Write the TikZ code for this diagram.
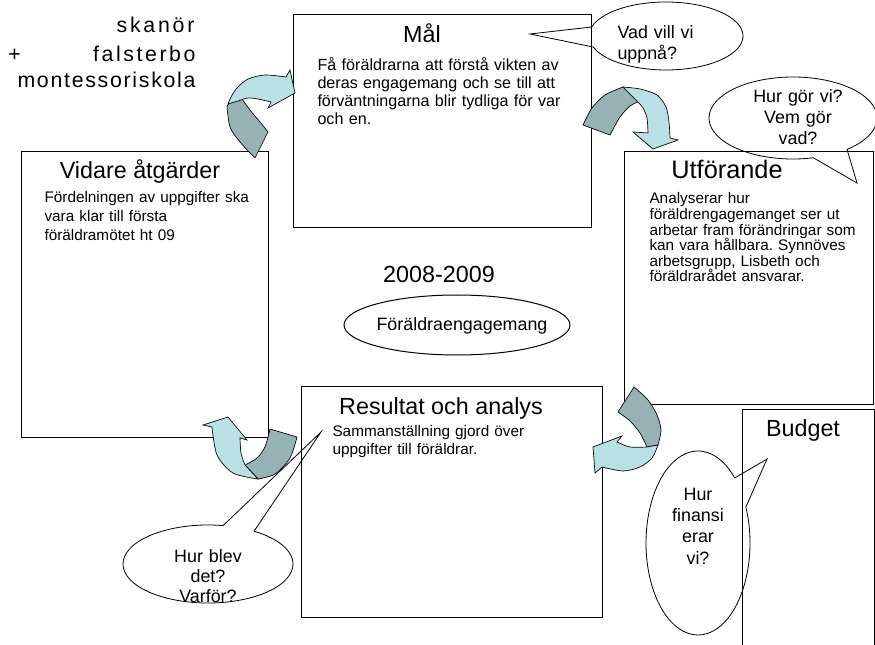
\documentclass[tikz,border=0pt]{standalone}
\usepackage{fontspec}
\setmainfont{Liberation Sans}
\usetikzlibrary{arrows.meta}
\definecolor{bandbak}{RGB}{150,178,180}
\definecolor{bandfram}{RGB}{185,224,228}
\frenchspacing

\begin{document}
\begin{tikzpicture}[x=0.75pt, y=-0.75pt, line width=0.75pt,
    titel/.style={anchor=base, inner sep=0pt, font=\fontsize{17.5}{21}\selectfont},
    brodtext/.style={anchor=base west, inner sep=0pt, align=left, text width=260pt,
                     font={\fontsize{11.5}{#1}\selectfont\setlength{\lineskiplimit}{-20pt}}},
    prat/.style={anchor=base, inner sep=0pt, align=center, text width=150pt,
                 font={\fontsize{13.4}{#1}\selectfont\setlength{\lineskiplimit}{-20pt}}},
    prat/.default=15.4,
    bubbla/.style={draw=black, line width=0.6pt},
    bak/.style={fill=bandbak, draw=black, line width=0.5pt},
    fram/.style={fill=bandfram, draw=black, line width=0.5pt},
    logo/.style={inner sep=0pt, font={\fontsize{16}{19}\selectfont\addfontfeature{LetterSpace=#1}}},
    logo/.default=8]
    \useasboundingbox (0,0) rectangle (875,645);

    % logga
    \node[logo=13, anchor=base east] (skanor) at (195,33) {skanör};
    \node[logo, anchor=base west] (plus) at (8,62) {+};
    \node[logo=12, anchor=base east] (falsterbo) at (196,62) {falsterbo};
    \node[logo=8, anchor=base west] (montessori) at (17,88) {montessoriskola};

    % Mål
    \draw (293,15) rectangle (591,228);
    \node[titel] (mal) at (422,43) {Mål};
    \node[brodtext=13.3, font={\fontsize{12.1}{13.3}\selectfont}] (maltext) at (317,71)
        {Få föräldrarna att förstå vikten av\\deras engagemang och se till att\\förväntningarna blir tydliga för var\\och en.};

    % Vidare åtgärder
    \draw (21,152) rectangle (268,437);
    \node[titel] (vidare) at (140,179) {Vidare åtgärder};
    \node[brodtext=13.9] (vidaretext) at (44,203)
        {Fördelningen av uppgifter ska\\vara klar till första\\föräldramötet ht 09};

    % Utförande
    \draw (624,152) rectangle (873,404);
    \node[titel, font=\fontsize{19}{23}\selectfont] (utf) at (727,179) {Utförande};
    \node[brodtext=11.7] (utftext) at (649,204)
        {Analyserar hur\\föräldrengagemanget ser ut\\arbetar fram förändringar som\\kan vara hållbara. Synnöves\\arbetsgrupp, Lisbeth och\\föräldrarådet ansvarar.};

    % Resultat och analys
    \draw (301,387) rectangle (602,617);
    \node[titel] (res) at (441,414) {Resultat och analys};
    \node[brodtext=13.5] (restext) at (332,436)
        {Sammanställning gjord över\\uppgifter till föräldrar.};

    % Budget
    \draw (742,645) -- (742,409) -- (874,409) -- (874,645);
    \node[titel] (budget) at (803,436) {Budget};

    % mitten
    \node[titel] (period) at (439,283) {2008-2009};
    \draw (457,325) ellipse [x radius=113, y radius=30];
    \node[prat] (tema) at (462,330) {Föräldraengagemang};

    % böjda pilar
    \filldraw[bak] (255,158) -- (268,132)
        -- plot[smooth] coordinates {(268,132) (260,122) (250,110) (242,99)}
        -- plot[smooth] coordinates {(242,99) (234,99) (227,106)}
        -- plot[smooth] coordinates {(227,106) (230,127) (240,142) (255,158)} -- cycle;
    \filldraw[fram] (228,104)
        -- plot[smooth] coordinates {(228,104) (231,97) (237,88) (248,79) (265,75) (286,77)}
        -- (290,70) -- (295,93) -- (268,108) -- (271,102)
        -- plot[smooth] coordinates {(271,102) (258,99) (248,98) (238,101) (228,104)} -- cycle;

    \filldraw[bak] (583,125) -- (610,135)
        -- plot[smooth] coordinates {(610,135) (620,117) (630,106) (638,102)}
        -- (623,87)
        -- plot[smooth] coordinates {(623,87) (605,95) (592,108) (583,125)} -- cycle;
    \filldraw[fram] (623,87)
        -- plot[smooth] coordinates {(623,87) (640,89) (657,95) (666,107) (669,122) (670,138)}
        -- (678,140) -- (653,149) -- (633,132) -- (648,133)
        -- plot[smooth] coordinates {(648,133) (647,118) (643,108) (638,102)} -- cycle;

    \filldraw[bak] (618,412) -- (634,387)
        -- plot[smooth] coordinates {(634,387) (648,400) (657,415) (661,430) (658,445)}
        -- (647,447)
        -- plot[smooth] coordinates {(647,447) (640,433) (630,421) (618,412)} -- cycle;
    \filldraw[fram] (658,445)
        -- plot[smooth] coordinates {(658,445) (652,458) (640,467) (623,471) (602,467)}
        -- (595,473) -- (593,447) -- (622,436) -- (617,442)
        -- plot[smooth] coordinates {(617,442) (630,447) (647,447)} -- cycle;

    \filldraw[bak] (270,429) -- (297,437)
        -- plot[smooth] coordinates {(297,437) (290,458) (275,474) (258,479)}
        -- (245,465)
        -- plot[smooth] coordinates {(245,465) (257,458) (265,447) (270,429)} -- cycle;
    \filldraw[fram] (258,479)
        -- plot[smooth] coordinates {(258,479) (233,473) (217,455) (212,427)}
        -- (203,425) -- (228,417) -- (247,440) -- (240,438)
        -- plot[smooth] coordinates {(240,438) (241,453) (245,465)} -- cycle;

    % pratbubblor
    \draw[bubbla] (666,36) ++(195.4:77 and 34)
        arc[start angle=195.4, end angle=521.1, x radius=77, y radius=34] -- (530,34) -- cycle;
    \node[prat, align=left, anchor=base west, text width=90pt] (vad) at (617,39) {Vad vill vi\\uppnå?};

    \draw[bubbla] (793,118) ++(76:84 and 41)
        arc[start angle=76, end angle=410, x radius=84, y radius=41] -- (857,183) -- cycle;
    \node[prat] (hur) at (798,103) {Hur gör vi?\\Vem gör\\vad?};

    \draw[bubbla] (208,564) ++(302.8:85 and 39)
        arc[start angle=302.8, end angle=640.2, x radius=85, y radius=39] -- (321,432) -- cycle;
    \node[prat=15] (blev) at (208,562) {Hur blev\\det?\\Varför?};

    \draw[bubbla] (698,543) ++(337:52 and 92)
        arc[start angle=337, end angle=675, x radius=52, y radius=92] -- (767,459) -- cycle;
    \node[prat=16] (finans) at (698,500) {Hur\\finansi\\erar\\vi?};
\end{tikzpicture}
\end{document}
